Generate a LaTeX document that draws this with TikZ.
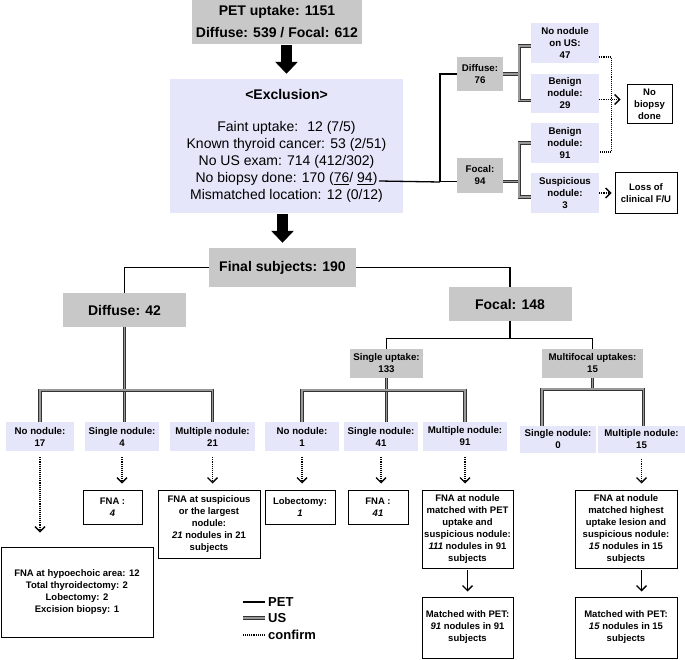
\documentclass[tikz,border=0pt]{standalone}
\usepackage{fontspec}
\setmainfont{Liberation Sans}
\usepackage{xcolor}
\usepackage{tikz}
\usetikzlibrary{arrows.meta,calc}
\definecolor{boxgray}{RGB}{200,200,200}
\definecolor{boxlav}{RGB}{230,230,250}

\begin{document}
\begin{tikzpicture}[
      x=1pt, y=-1pt,
      every node/.style = {align=center, inner sep=0pt},
      headbox/.style = {
        fill=boxgray, font=\bfseries\fontsize{14}{22}\selectfont,
      },
      exclbox/.style = {
        fill=boxlav, font=\fontsize{14}{17}\selectfont,
      },
      groupbox/.style = {
        fill=boxgray, font=\bfseries\fontsize{9.7}{12}\selectfont,
      },
      countbox/.style = {
        fill=boxlav, font=\bfseries\fontsize{9.7}{12}\selectfont,
      },
      resultbox/.style = {
        draw=black, line width=1pt, fill=white,
        font=\bfseries\fontsize{9.5}{12}\selectfont,
      },
      pet/.style = {black, line width=1.3pt},
      us/.style = {
        draw=black!80, line width=.8pt, double=gray!80, double distance=1.6pt,
      },
      confirm/.style = {black, line width=1.1pt, densely dotted},
      check/.style = {
        confirm, -{Straight Barb[length=5pt,width=10pt,line width=1.3pt]}, shorten >=6pt,
      },
      flow/.style = {
        black, line width=1.1pt, -{Straight Barb[length=5pt,width=10pt,line width=1.3pt]},
        shorten <=1pt, shorten >=5pt,
      },
      bigarrow/.style = {
        black, line width=11pt, -{Triangle[width=22pt,length=12pt]},
        shorten <=1pt, shorten >=5pt,
      },
      legend/.style = {anchor=west, font=\bfseries\fontsize{13}{14}\selectfont},
    ]
    \useasboundingbox (0,0) rectangle (685,660);

    % top and exclusion
    \node[headbox, minimum width=170pt, minimum height=44pt] (uptake) at (277,22)
      {PET uptake: 1151\\Diffuse: 539 / Focal: 612};
    \node[exclbox, minimum width=233pt, minimum height=134pt] (exclusion) at (286.5,146)
      {\textbf{<Exclusion>}\\[15pt]
       Faint uptake:~ 12 (7/5)\\
       Known thyroid cancer: 53 (2/51)\\
       No US exam: 714 (412/302)\\
       No biopsy done: 170 (\underline{76}/ \underline{94})\\
       Mismatched location: 12 (0/12)};
    \draw[bigarrow] (uptake.south -| exclusion.north) -- (exclusion.north);

    % no biopsy branch
    \node[groupbox, minimum width=46pt, minimum height=34pt] (d76) at (480,74) {Diffuse:\\76};
    \node[groupbox, minimum width=46pt, minimum height=35pt] (f94) at (480,175.5) {Focal:\\94};
    \node[countbox, minimum width=68pt, minimum height=40pt] (nnus) at (565,43) {No nodule\\on US:\\47};
    \node[countbox, minimum width=68pt, minimum height=39pt] (ben29) at (565,93.5) {Benign\\nodule:\\29};
    \node[countbox, minimum width=68pt, minimum height=40pt] (ben91) at (565,143) {Benign\\nodule:\\91};
    \node[countbox, minimum width=68pt, minimum height=40pt] (susp3) at (565,193) {Suspicious\\nodule:\\3};
    \node[resultbox, minimum width=45pt, minimum height=39pt] (nobiop) at (649.5,104.5) {No\\biopsy\\done};
    \node[resultbox, minimum width=62pt, minimum height=41pt] (loss) at (646,193.5) {Loss of\\clinical F/U};

    \coordinate (nobiopsy) at (379,181);
    \coordinate (split) at (440,182);
    \draw[pet] (nobiopsy) -- (split);
    \draw[pet] (d76.west) -| (split) |- ([yshift=-6pt]f94.west);
    \draw[us] (d76.east) -- ++(16,0) coordinate (dsplit);
    \draw[us] ([yshift=-3pt]nnus.west) -| (dsplit) |- ([yshift=-7pt]ben29.west);
    \draw[us] ([yshift=-6pt]f94.east) -- ++(16,0) coordinate (fsplit);
    \draw[us] (ben91.west) -| (fsplit) |- ([yshift=-4pt]susp3.west);
    \draw[confirm] ([yshift=-14pt]nnus.east) -- ++(12,0) |- ([yshift=-9pt]ben91.east);
    \draw[check] ([yshift=-6pt]ben29.east) -- ([yshift=-6pt]ben29.east -| nobiop.west);
    \draw[check, shorten >=3pt] (susp3.east) -- (susp3.east -| loss.west);

    % final subjects
    \node[headbox, minimum width=147pt, minimum height=39pt] (final) at (282.5,267.5) {Final subjects: 190};
    \draw[bigarrow] (exclusion.south -| final.north) -- (final.north);
    \node[headbox, minimum width=123pt, minimum height=34pt] (diffuse) at (124.5,310) {Diffuse: 42};
    \node[headbox, minimum width=123pt, minimum height=34pt] (focal) at (510,304) {Focal: 148};
    \draw[pet] (final.west) -| (diffuse.north);
    \draw[pet] (final.east) -| (focal.north);

    \node[groupbox, minimum width=73pt, minimum height=29pt] (single) at (386.5,363.5) {Single uptake:\\133};
    \node[groupbox, minimum width=101pt, minimum height=29pt] (multi) at (592.5,363.5) {Multifocal uptakes:\\15};
    \draw[pet] (focal.south) -- ++(0,17) coordinate (fbar);
    \draw[pet] (single.north) |- (fbar) -| (multi.north);

    % nodules on US
    \node[countbox, minimum width=68pt, minimum height=29pt] (nn17) at (40,436.5) {No nodule:\\17};
    \node[countbox, minimum width=74pt, minimum height=29pt] (sn4) at (122,436.5) {Single nodule:\\4};
    \node[countbox, minimum width=85pt, minimum height=29pt] (mn21) at (212.5,436.5) {Multiple nodule:\\21};
    \node[countbox, minimum width=74pt, minimum height=29pt] (nn1) at (302,436.5) {No nodule:\\1};
    \node[countbox, minimum width=74pt, minimum height=29pt] (sn41) at (381,436.5) {Single nodule:\\41};
    \node[countbox, minimum width=84pt, minimum height=29pt] (mn91) at (465,436.5) {Multiple nodule:\\91};
    \node[countbox, minimum width=76pt, minimum height=27pt] (sn0) at (558,439.5) {Single nodule:\\0};
    \node[countbox, minimum width=87pt, minimum height=27pt] (mn15) at (641.5,439.5) {Multiple nodule:\\15};

    \draw[us] (diffuse.south) -- ++(0,63) coordinate (dbar) -- (diffuse.south |- sn4.north);
    \draw[us] (nn17.north) |- (dbar) -| (mn21.north);
    \draw[us] (single.south) -- ++(0,12) coordinate (sbar) -- (single.south |- sn41.north);
    \draw[us] (nn1.north) |- (sbar) -| (mn91.north);
    \draw[us] (multi.south) -- ++(0,11) coordinate (mbar);
    \draw[us] ([xshift=-16pt]sn0.north) |- (mbar) -| ([xshift=2pt]mn15.north);

    % confirmation
    \node[resultbox, minimum width=152pt, minimum height=90pt] (hypo) at (77,592)
      {FNA at hypoechoic area: 12\\Total thyroidectomy: 2\\Lobectomy: 2\\Excision biopsy: 1};
    \node[resultbox, minimum width=59pt, minimum height=34pt] (fna4) at (112.5,507) {FNA :\\\textit{4}};
    \node[resultbox, minimum width=102pt, minimum height=68pt] (fnasusp) at (209,524)
      {FNA at suspicious\\or the largest\\nodule:\\\textit{21} nodules in 21\\subjects};
    \node[resultbox, minimum width=70pt, minimum height=34pt] (lob1) at (300,507) {Lobectomy:\\\textit{1}};
    \node[resultbox, minimum width=60pt, minimum height=34pt] (fna41) at (378,507) {FNA :\\\textit{41}};
    \node[resultbox, minimum width=91pt, minimum height=78pt] (fnamatch) at (467.5,529)
      {FNA at nodule\\matched with PET\\uptake and\\suspicious nodule:\\\textit{111} nodules in 91\\subjects};
    \node[resultbox, minimum width=102pt, minimum height=78pt] (fnahigh) at (626,529)
      {FNA at nodule\\matched highest\\uptake lesion and\\suspicious nodule:\\\textit{15} nodules in 15\\subjects};
    \node[resultbox, minimum width=91pt, minimum height=61pt] (mpet91) at (467.5,627.5)
      {Matched with PET:\\\textit{91} nodules in 91\\subjects};
    \node[resultbox, minimum width=102pt, minimum height=61pt] (mpet15) at (626,627.5)
      {Matched with PET:\\\textit{15} nodules in 15\\subjects};

    \draw[check, shorten <=6pt, shorten >=14pt] (nn17.south) -- (nn17.south |- hypo.north);
    \draw[check, shorten <=6pt] (sn4.south) -- (sn4.south |- fna4.north);
    \draw[check, shorten <=6pt] (mn21.south) -- (mn21.south |- fnasusp.north);
    \draw[check, shorten <=6pt] (nn1.south) -- (nn1.south |- lob1.north);
    \draw[check, shorten <=6pt] (sn41.south) -- (sn41.south |- fna41.north);
    \draw[check, shorten <=6pt] (mn91.south) -- (mn91.south |- fnamatch.north);
    \draw[check, shorten <=6pt] (mn15.south) -- (mn15.south |- fnahigh.north);
    \draw[flow] (fnamatch.south) -- (mpet91.north);
    \draw[flow] (fnahigh.south -| mn15.south) -- (mpet15.north -| mn15.south);

    % legend
    \node[legend] (legpet) at (268,602) {PET};
    \node[legend] (legus) at (268,618) {US};
    \node[legend] (legconf) at (268,635) {confirm};
    \draw[pet] ([xshift=-3pt]legpet.west) -- ++(-22,0);
    \draw[us] ([xshift=-3pt]legus.west) -- ++(-22,0);
    \draw[confirm] ([xshift=-3pt]legconf.west) -- ++(-22,0);
  \end{tikzpicture}
\end{document}
